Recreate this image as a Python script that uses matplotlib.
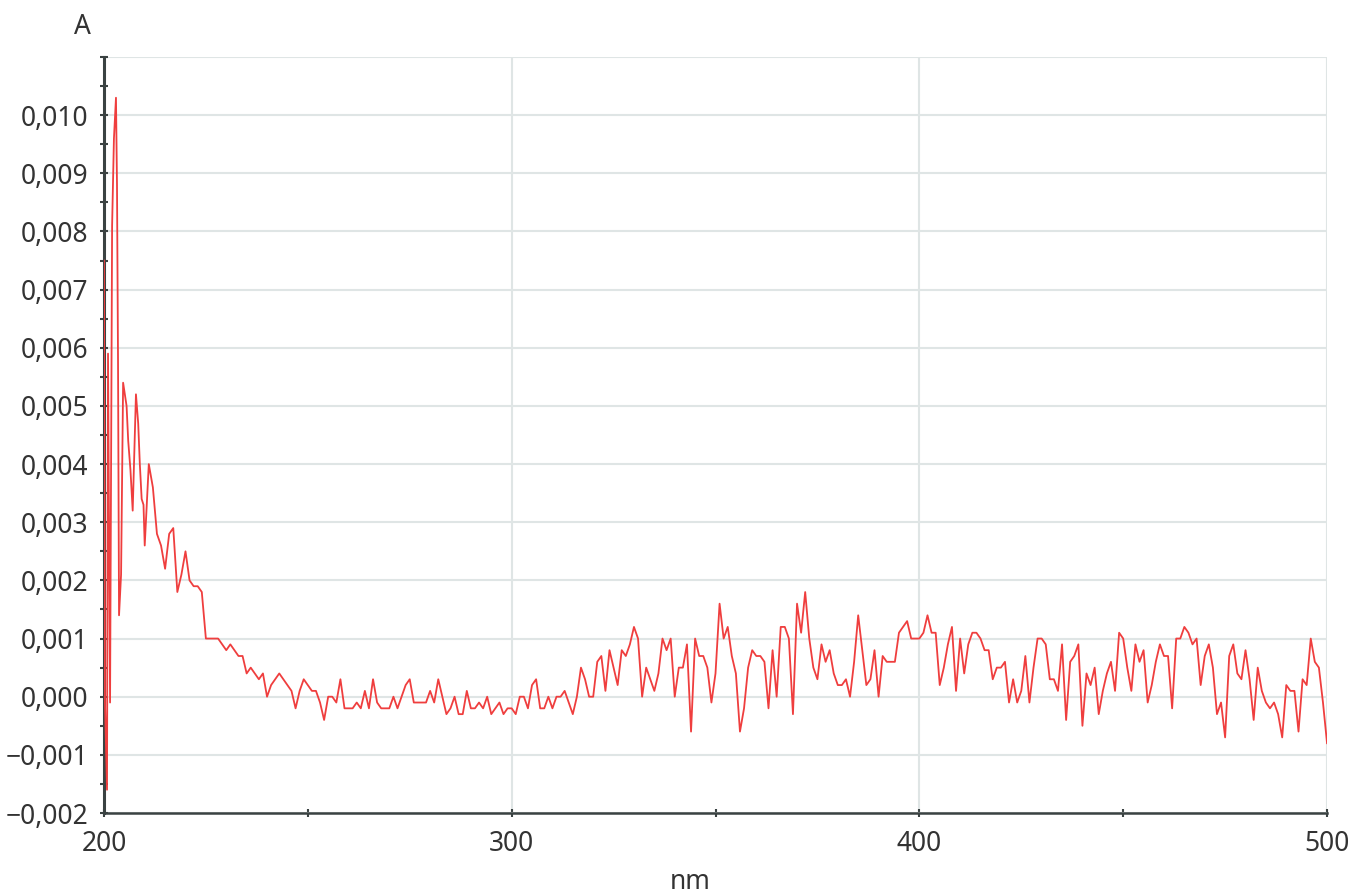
import matplotlib
matplotlib.use('Agg')
import matplotlib.pyplot as plt
from matplotlib.ticker import MultipleLocator, FuncFormatter

plt.rcParams['font.family'] = ['Noto Sans', 'DejaVu Sans']

# spiky start of the spectrum (denser sampling)
wl_start = [200.0, 200.25, 200.75, 201.0, 201.5, 202.0, 202.45, 202.95, 203.2, 203.45,
            203.7, 204.2, 204.7, 205.55, 205.95, 206.5, 207.05, 207.85, 208.4, 208.8,
            209.25, 209.7]
a_start = [0.0075, -0.0001, -0.0016, 0.0059, -0.0001, 0.0081, 0.0096, 0.0103, 0.0088, 0.0058,
           0.0014, 0.0021, 0.0054, 0.0050, 0.0044, 0.0039, 0.0032, 0.0052, 0.0047, 0.0040,
           0.0034, 0.0033]

# 210 .. 500 nm, 1 nm step
wl_main = list(range(210, 501))
a_main = [
    0.0026, 0.0040, 0.0036, 0.0028, 0.0026, 0.0022, 0.0028, 0.0029, 0.0018, 0.0021,
    0.0025, 0.0020, 0.0019, 0.0019, 0.0018, 0.0010, 0.0010, 0.0010, 0.0010, 0.0009,
    0.0008, 0.0009, 0.0008, 0.0007, 0.0007, 0.0004, 0.0005, 0.0004, 0.0003, 0.0004,
    0.0000, 0.0002, 0.0003, 0.0004, 0.0003, 0.0002, 0.0001, -0.0002, 0.0001, 0.0003,
    0.0002, 0.0001, 0.0001, -0.0001, -0.0004, 0.0000, 0.0000, -0.0001, 0.0003, -0.0002,
    -0.0002, -0.0002, -0.0001, -0.0002, 0.0001, -0.0002, 0.0003, -0.0001, -0.0002, -0.0002,
    -0.0002, 0.0000, -0.0002, 0.0000, 0.0002, 0.0003, -0.0001, -0.0001, -0.0001, -0.0001,
    0.0001, -0.0001, 0.0003, 0.0000, -0.0003, -0.0002, 0.0000, -0.0003, -0.0003, 0.0001,
    -0.0002, -0.0002, -0.0001, -0.0002, 0.0000, -0.0003, -0.0002, -0.0001, -0.0003, -0.0002,
    -0.0002, -0.0003, 0.0000, 0.0000, -0.0002, 0.0002, 0.0003, -0.0002, -0.0002, 0.0000,
    -0.0002, 0.0000, 0.0000, 0.0001, -0.0001, -0.0003, 0.0000, 0.0005, 0.0003, 0.0000,
    0.0000, 0.0006, 0.0007, 0.0001, 0.0008, 0.0005, 0.0002, 0.0008, 0.0007, 0.0009,
    0.0012, 0.0010, 0.0000, 0.0005, 0.0003, 0.0001, 0.0004, 0.0010, 0.0008, 0.0010,
    0.0000, 0.0005, 0.0005, 0.0009, -0.0006, 0.0010, 0.0007, 0.0007, 0.0005, -0.0001,
    0.0004, 0.0016, 0.0010, 0.0012, 0.0007, 0.0004, -0.0006, -0.0002, 0.0005, 0.0008,
    0.0007, 0.0007, 0.0006, -0.0002, 0.0008, 0.0000, 0.0012, 0.0012, 0.0010, -0.0003,
    0.0016, 0.0011, 0.0018, 0.0010, 0.0005, 0.0003, 0.0009, 0.0006, 0.0008, 0.0004,
    0.0002, 0.0002, 0.0003, 0.0000, 0.0006, 0.0014, 0.0008, 0.0002, 0.0003, 0.0008,
    0.0000, 0.0007, 0.0006, 0.0006, 0.0006, 0.0011, 0.0012, 0.0013, 0.0010, 0.0010,
    0.0010, 0.0011, 0.0014, 0.0011, 0.0011, 0.0002, 0.0005, 0.0009, 0.0012, 0.0001,
    0.0010, 0.0004, 0.0009, 0.0011, 0.0011, 0.0010, 0.0008, 0.0008, 0.0003, 0.0005,
    0.0005, 0.0006, -0.0001, 0.0003, -0.0001, 0.0001, 0.0007, -0.0001, 0.0005, 0.0010,
    0.0010, 0.0009, 0.0003, 0.0003, 0.0001, 0.0009, -0.0004, 0.0006, 0.0007, 0.0009,
    -0.0005, 0.0004, 0.0002, 0.0005, -0.0003, 0.0001, 0.0004, 0.0006, 0.0001, 0.0011,
    0.0010, 0.0005, 0.0001, 0.0009, 0.0006, 0.0008, -0.0001, 0.0002, 0.0006, 0.0009,
    0.0007, 0.0007, -0.0002, 0.0010, 0.0010, 0.0012, 0.0011, 0.0009, 0.0010, 0.0002,
    0.0007, 0.0009, 0.0005, -0.0003, -0.0001, -0.0007, 0.0007, 0.0009, 0.0004, 0.0003,
    0.0008, 0.0003, -0.0004, 0.0005, 0.0001, -0.0001, -0.0002, -0.0001, -0.0003, -0.0007,
    0.0002, 0.0001, 0.0001, -0.0006, 0.0003, 0.0002, 0.0010, 0.0006, 0.0005, -0.0001,
    -0.0008,
]

wavelength = wl_start + wl_main
absorbance = a_start + a_main

text_col = '#333333'
axis_col = '#3a4242'
grid_col = '#dfe5e5'


def comma_fmt(v, pos):
    if v > 0.0105:
        return ''
    if abs(v) < 1e-9:
        v = 0.0
    return f'{v:.3f}'.replace('.', ',').replace('-', '\u2212')


fig = plt.figure(figsize=(13.5, 8.94), dpi=100)
ax = fig.add_axes([0.077, 0.0906, 0.906, 0.8456])

ax.plot(wavelength, absorbance, color='#ef3e3e', lw=1.3, zorder=3)

ax.set_xlim(200, 500)
ax.set_ylim(-0.002, 0.011)
ax.xaxis.set_major_locator(MultipleLocator(100))
ax.xaxis.set_minor_locator(MultipleLocator(50))
ax.yaxis.set_major_locator(MultipleLocator(0.001))
ax.yaxis.set_minor_locator(MultipleLocator(0.0005))
ax.yaxis.set_major_formatter(FuncFormatter(comma_fmt))

ax.grid(True, which='major', color=grid_col, lw=1.5, zorder=0)
ax.set_axisbelow(True)

for s in ['top', 'right']:
    ax.spines[s].set_visible(False)
ax.spines['left'].set_color(axis_col)
ax.spines['left'].set_linewidth(2.2)
ax.spines['bottom'].set_color(axis_col)
ax.spines['bottom'].set_linewidth(1.8)

ax.tick_params(axis='both', which='both', direction='inout', length=6, width=1.5,
               colors=axis_col, labelcolor=text_col, labelsize=19)
ax.tick_params(axis='y', pad=8)
ax.tick_params(axis='x', pad=9)

fig.text(82 / 1350, 1 - 27 / 894, 'A', ha='center', va='center', fontsize=19, color=text_col)
fig.text(690 / 1350, 1 - 882 / 894, 'nm', ha='center', va='center', fontsize=19, color=text_col)

fig.savefig('out.png', dpi=100)
